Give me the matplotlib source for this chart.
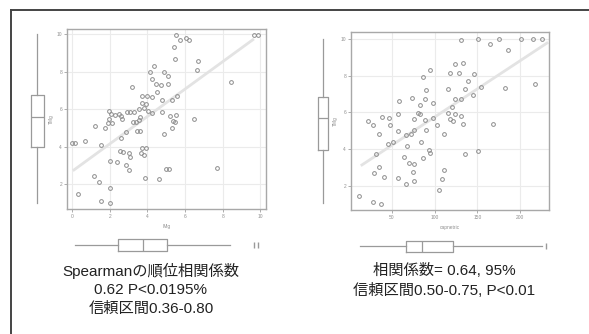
import matplotlib.pyplot as plt
from matplotlib.lines import Line2D

plt.rcParams['font.family'] = ['Liberation Sans', 'Noto Sans CJK JP', 'DejaVu Sans']

# left panel: points
left_x = [5.50, 5.71, 6.03, 6.21, 9.66, 9.89, 5.41, 6.70, 5.46, 6.63,
          4.33, 4.15, 4.89, 5.11, 4.22, 4.47, 4.72, 5.11, 3.19, 8.42,
          3.69, 3.99, 4.22, 4.52, 5.59, 4.79, 5.32, 3.72, 3.94, 2.94,
          1.95, 2.09, 2.30, 2.48, 2.62, 3.10, 3.28, 3.58, 3.81, 4.04,
          4.26, 1.95, 2.13, 1.91, 2.66, 1.24, 3.23, 3.40, 3.55, 3.62,
          4.79, 5.18, 5.53, 5.35, 5.46, 6.47, 1.77, 2.84, 4.89, 5.32,
          3.46, 3.63, 0.00, 0.18, 0.71, 1.51, 2.62, 3.69, 3.90, 2.57,
          2.70, 3.01, 3.10, 3.67, 3.81, 2.04, 2.36, 2.84, 3.01, 3.87,
          4.61, 5.00, 5.14, 7.71, 1.15, 1.42, 2.02, 0.32, 1.51, 2.04]
left_y = [9.95, 9.68, 9.80, 9.70, 9.95, 9.95, 9.32, 8.56, 8.65, 8.08,
          8.29, 7.99, 7.99, 7.78, 7.60, 7.32, 7.28, 7.32, 7.19, 7.46,
          6.71, 6.71, 6.66, 6.92, 6.71, 6.48, 6.48, 6.34, 6.27, 5.82,
          5.89, 5.72, 5.68, 5.72, 5.64, 5.82, 5.82, 6.00, 6.04, 5.89,
          5.77, 5.47, 5.27, 5.27, 5.47, 5.11, 5.29, 5.29, 5.41, 5.59,
          5.82, 5.64, 5.68, 5.36, 5.29, 5.45, 4.97, 4.79, 4.65, 4.97,
          4.83, 4.83, 4.20, 4.20, 4.29, 4.08, 4.44, 3.94, 3.94, 3.76,
          3.72, 3.64, 3.46, 3.64, 3.55, 3.23, 3.19, 3.01, 2.73, 2.34,
          2.27, 2.80, 2.80, 2.87, 2.44, 2.09, 1.77, 1.45, 1.09, 1.00]

right_x = [130.9, 150.4, 164.8, 175.0, 185.5, 201.2, 214.8, 225.8, 94.5, 85.9,
           124.2, 133.6, 118.0, 128.9, 146.5, 138.7, 154.3, 182.0, 218.0, 89.8,
           115.2, 135.9, 145.3, 89.1, 73.4, 58.6, 124.2, 130.9, 98.4, 82.8,
           120.3, 56.6, 80.1, 82.8, 98.4, 115.2, 124.2, 130.9, 118.0, 121.2,
           38.3, 46.9, 21.5, 28.1, 48.0, 76.2, 88.3, 102.3, 132.8, 168.0,
           34.4, 56.6, 66.4, 72.3, 89.8, 111.3, 76.1, 44.9, 50.8, 31.3,
           67.2, 84.0, 93.0, 94.5, 85.9, 135.9, 150.4, 64.5, 70.3, 76.2,
           35.2, 29.3, 41.0, 56.6, 74.2, 76.2, 66.4, 111.3, 108.6, 105.5,
           11.7, 27.3, 37.1]
right_y = [9.96, 10.02, 9.75, 10.02, 9.42, 10.02, 10.02, 10.02, 8.33, 7.93,
           8.66, 8.69, 8.15, 8.15, 8.11, 7.71, 7.39, 7.33, 7.53, 7.24,
           7.30, 7.30, 6.93, 6.75, 6.79, 6.63, 6.75, 6.75, 6.52, 6.39,
           6.30, 5.90, 5.97, 5.90, 5.72, 5.97, 5.90, 5.79, 5.66, 5.54,
           5.76, 5.72, 5.54, 5.30, 5.30, 5.66, 5.61, 5.30, 5.39, 5.39,
           4.81, 4.99, 4.76, 4.81, 5.07, 4.81, 5.03, 4.27, 4.39, 3.76,
           4.16, 4.39, 3.98, 3.80, 3.54, 3.72, 3.90, 3.58, 3.25, 3.22,
           3.03, 2.71, 2.49, 2.45, 2.76, 2.27, 2.13, 2.85, 2.40, 1.80,
           1.44, 1.13, 1.04]

# fitted lines (slope, intercept, x range)
left_fit = (0.731, 2.68, 0.1, 9.6)
right_fit = (0.0306, 2.69, 14.8, 231.6)

# marginal box stats: whislo, q1, med, q3, whishi, fliers
left_xbox = (0.16, 2.45, 3.78, 5.05, 8.4, [9.66, 9.89])
left_ybox = (1.0, 3.97, 5.57, 6.75, 10.0, [])
right_xbox = (12.8, 66.3, 84.9, 122.1, 225.6, [231.0])
right_ybox = (1.09, 3.97, 5.71, 6.85, 10.0, [])

left_xticks = [0, 2, 4, 6, 8, 10]
right_xticks = [50, 100, 150, 200]
yticks = [2, 4, 6, 8, 10]

left_text = 'Spearmanの順位相関係数\n0.62 P<0.0195%\n信頼区間0.36-0.80'
right_text = '相関係数= 0.64, 95%\n信頼区間0.50-0.75, P<0.01'

W, H = 589, 334
GRAY = '#9a9a9a'


def px_box(x0, y0, x1, y1):
    return [x0 / W, 1 - y1 / H, (x1 - x0) / W, (y1 - y0) / H]


def stats(s):
    return dict(whislo=s[0], q1=s[1], med=s[2], q3=s[3], whishi=s[4], fliers=s[5])


def box(ax, s, orient, width):
    ax.bxp([stats(s)], positions=[0.5], widths=width, orientation=orient,
           showcaps=False,
           boxprops=dict(color=GRAY, lw=0.9),
           whiskerprops=dict(color=GRAY, lw=0.9),
           medianprops=dict(color=GRAY, lw=0.9),
           flierprops=dict(marker='|', markeredgecolor=GRAY, markersize=4))
    ax.axis('off')


def scatter_panel(rect, xs, ys, fit, xlim, ylim, xticks, xlabel, ylabel):
    ax = fig.add_axes(rect)
    ax.set_xlim(*xlim)
    ax.set_ylim(*ylim)
    ax.set_xticks(xticks)
    ax.set_yticks(yticks)
    ax.grid(True, color='#ebebeb', lw=0.8)
    ax.set_axisbelow(True)
    a, b, x0, x1 = fit
    ax.plot([x0, x1], [a * x0 + b, a * x1 + b], color='#e3e3e3', lw=2.0)
    ax.plot(xs, ys, 'o', ms=2.7, mfc='none', mec='#8c8c8c', mew=0.7)
    for sp in ax.spines.values():
        sp.set_color('#a8a8a8')
        sp.set_linewidth(1.0)
    ax.tick_params(length=2, width=0.6, color='#a0a0a0', labelsize=3.5,
                   labelcolor='#909090', pad=1.5)
    ax.set_xlabel(xlabel, fontsize=3.5, color='#909090', labelpad=4)
    ax.set_ylabel(ylabel, fontsize=3.5, color='#909090', labelpad=2)
    return ax


fig = plt.figure(figsize=(W / 100, H / 100), dpi=100)

# outer frame (left and top edges only are inside the picture)
fig.add_artist(Line2D([11 / W, 11 / W], [0, 1 - 10 / H], color='#444444', lw=1.4,
                      transform=fig.transFigure))
fig.add_artist(Line2D([11 / W, 1], [1 - 10 / H, 1 - 10 / H], color='#444444', lw=1.4,
                      transform=fig.transFigure))

# left panel
lx = (-0.27, 10.3)
ly = (0.67, 10.27)
scatter_panel(px_box(67, 29, 266, 209), left_x, left_y, left_fit, lx, ly,
              left_xticks, 'IMg', 'TMg')
ax = fig.add_axes(px_box(24, 29, 50, 209))
box(ax, left_ybox, 'vertical', 0.5)
ax.set_xlim(0, 1)
ax.set_ylim(*ly)
ax = fig.add_axes(px_box(67, 235, 266, 255))
box(ax, left_xbox, 'horizontal', 0.6)
ax.set_ylim(0, 1)
ax.set_xlim(*lx)

# right panel
rx = (2.0, 234.0)
ry = (0.69, 10.38)
scatter_panel(px_box(351, 32, 549, 210), right_x, right_y, right_fit, rx, ry,
              right_xticks, 'capnetric', 'TMg')
ax = fig.add_axes(px_box(310, 32, 336, 210))
box(ax, right_ybox, 'vertical', 0.42)
ax.set_xlim(0, 1)
ax.set_ylim(*ry)
ax = fig.add_axes(px_box(351, 236, 549, 256))
box(ax, right_xbox, 'horizontal', 0.55)
ax.set_ylim(0, 1)
ax.set_xlim(*rx)

# captions
fig.text(151 / W, 1 - 263 / H, left_text, ha='center', va='top', fontsize=11,
         color='#222222', linespacing=1.38)
fig.text(444 / W, 1 - 263 / H, right_text, ha='center', va='top', fontsize=11,
         color='#222222', linespacing=1.38)

fig.savefig('out.png', dpi=100)
